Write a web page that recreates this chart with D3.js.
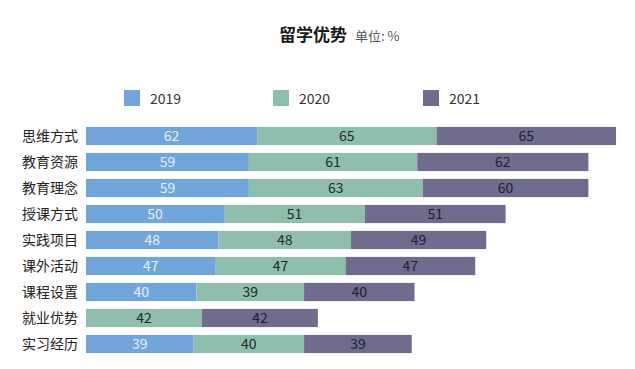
<!DOCTYPE html>
<html><head><meta charset="utf-8">
<script src="https://cdn.jsdelivr.net/npm/d3@7"></script>
<style>body{margin:0;background:#fff}svg{display:block}</style>
</head><body><svg id="c" width="635" height="369"></svg>
<script>
const categories = ["思维方式","教育资源","教育理念","授课方式","实践项目","课外活动","课程设置","就业优势","实习经历"];
const years = ["2019","2020","2021"];
const v2019 = [62,59,59,50,48,47,40,null,39];
const v2020 = [65,61,63,51,48,47,39,42,40];
const v2021 = [65,62,60,51,49,47,40,42,39];
const colors = ["#72a5d9","#8fbeac","#706c8d"];
const labelColors = ["#e6eef8","#1e2b2b","#1e2030"];

const svg = d3.select("#c");
const font = "'Noto Sans CJK SC','Noto Sans',sans-serif";
const series = [v2019, v2020, v2021];
const rows = categories.map((c,i)=>({cat:c, vals:series.map(s=>s[i])}));

const x = d3.scaleLinear().domain([0,192]).range([86,616]);
const y = d3.scaleBand().domain(categories).range([123,357]).paddingInner(0.3).paddingOuter(0.15);

// title
const t = svg.append("text").attr("x",279).attr("y",41).attr("font-family",font);
t.append("tspan").attr("font-size",17).attr("font-weight","bold").attr("fill","#1a1a1a").text("留学优势");
t.append("tspan").attr("dx",8).attr("font-size",13).attr("fill","#555").text("单位: %");

// legend
const lx = [124,273,423];
years.forEach((yr,i)=>{
  svg.append("rect").attr("x",lx[i]).attr("y",90).attr("width",16).attr("height",16).attr("fill",colors[i]);
  svg.append("text").attr("x",lx[i]+26).attr("y",104).attr("font-family",font).attr("font-size",14).attr("fill","#333").text(yr);
});

// category labels
svg.append("g").selectAll("text").data(categories).join("text")
  .attr("x",78).attr("y",d=>y(d)+y.bandwidth()/2).attr("dy","0.36em")
  .attr("text-anchor","end").attr("font-family",font).attr("font-size",14).attr("fill","#222").text(d=>d);

// bars
rows.forEach(r=>{
  let cum=0;
  r.vals.forEach((v,i)=>{
    if(v==null) return;
    const x0=x(cum), x1=x(cum+v);
    svg.append("rect").attr("x",x0).attr("y",y(r.cat)).attr("width",x1-x0).attr("height",y.bandwidth()).attr("fill",colors[i]);
    svg.append("text").attr("x",(x0+x1)/2).attr("y",y(r.cat)+y.bandwidth()/2).attr("dy","0.36em")
      .attr("text-anchor","middle").attr("font-family",font).attr("font-size",14).attr("fill",labelColors[i]).text(v);
    cum+=v;
  });
});
</script></body></html>
